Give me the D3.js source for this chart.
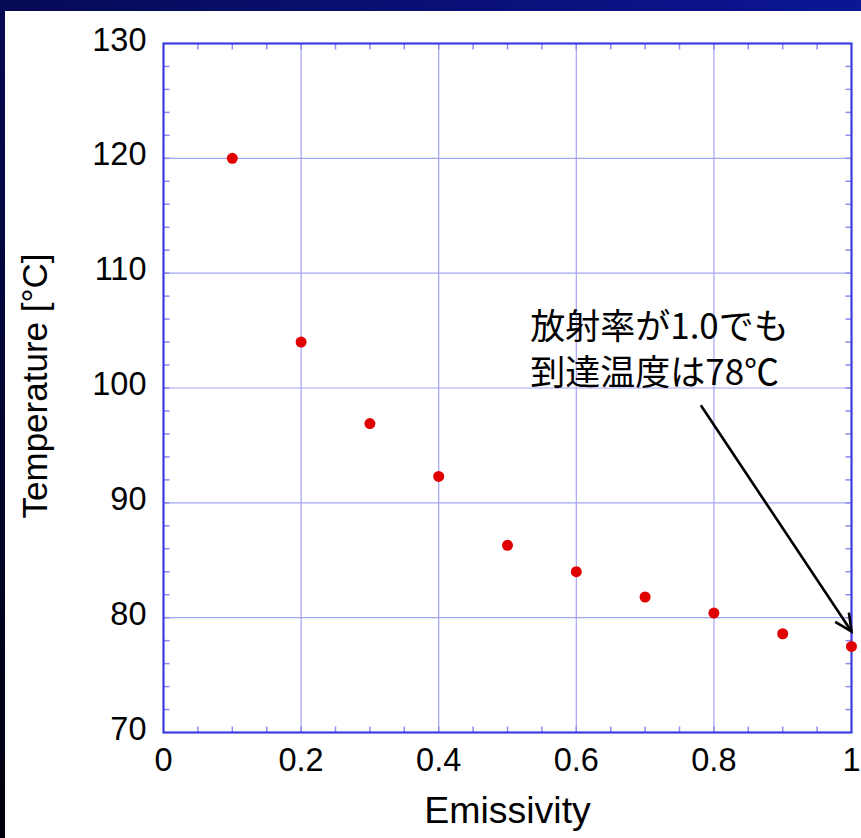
<!DOCTYPE html>
<html><head><meta charset="utf-8">
<script src="https://cdn.jsdelivr.net/npm/d3@7"></script>
<style>html,body{margin:0;padding:0;background:#000;}svg{display:block;}</style>
</head><body>
<script>
const emissivity = [0.1,0.2,0.3,0.4,0.5,0.6,0.7,0.8,0.9,1.0];
const temperature = [120,104,96.9,92.3,86.3,84.0,81.8,80.4,78.6,77.5];
const xTicks = [0,0.2,0.4,0.6,0.8,1];
const xTickLabels = ["0","0.2","0.4","0.6","0.8","1"];
const yTicks = [70,80,90,100,110,120,130];
const annotationLines = ["放射率が1.0でも","到達温度は78℃"];
const arrowFrom = [0.781,98.5];
const arrowTo = [1.0,78.8];

const W=861,H=838;
const svg=d3.select("body").append("svg").attr("width",W).attr("height",H);
const defs=svg.append("defs");
const g0=defs.append("linearGradient").attr("id","bg").attr("x1","0").attr("y1","1").attr("x2","1").attr("y2","0");
g0.append("stop").attr("offset","0").attr("stop-color","#00000c");
g0.append("stop").attr("offset","0.5").attr("stop-color","#060a55");
g0.append("stop").attr("offset","1").attr("stop-color","#0c1696");
svg.append("rect").attr("width",W).attr("height",H).attr("fill","url(#bg)");
svg.append("rect").attr("x",5).attr("y",11).attr("width",W-5).attr("height",H-11).attr("fill","#fff");

const L=163.5,R=851.5,T=43.5,B=732.5;
const x=d3.scaleLinear().domain([0,1]).range([L,R]);
const y=d3.scaleLinear().domain([70,130]).range([B,T]);

const gridC="#a4a4f4", tickC="#8a8af0", frameC="#3c3ce0";
// grid
svg.append("g").selectAll("line").data(xTicks.slice(1,-1)).join("line")
  .attr("x1",d=>x(d)).attr("x2",d=>x(d)).attr("y1",T).attr("y2",B)
  .attr("stroke",gridC).attr("stroke-width",1.2);
svg.append("g").selectAll("line").data(yTicks.slice(1,-1)).join("line")
  .attr("y1",d=>y(d)).attr("y2",d=>y(d)).attr("x1",L).attr("x2",R)
  .attr("stroke",gridC).attr("stroke-width",1.2);
// minor ticks
const xMinor=d3.range(1,20).map(i=>i*0.05);
const tl=6;
const tg=svg.append("g").attr("stroke",tickC).attr("stroke-width",1.5);
xMinor.forEach(v=>{
  tg.append("line").attr("x1",x(v)).attr("x2",x(v)).attr("y1",B).attr("y2",B-tl);
  tg.append("line").attr("x1",x(v)).attr("x2",x(v)).attr("y1",T).attr("y2",T+tl);
});
d3.range(72,130,2).forEach(v=>{
  tg.append("line").attr("y1",y(v)).attr("y2",y(v)).attr("x1",L).attr("x2",L+tl);
  tg.append("line").attr("y1",y(v)).attr("y2",y(v)).attr("x1",R).attr("x2",R-tl);
});
// frame
svg.append("rect").attr("x",L).attr("y",T).attr("width",R-L).attr("height",B-T)
  .attr("fill","none").attr("stroke",frameC).attr("stroke-width",2.2);

// tick labels
const font="Liberation Sans, Arial, sans-serif";
svg.append("g").selectAll("text").data(yTicks).join("text")
  .attr("x",L-17).attr("y",d=>y(d)+7).attr("text-anchor","end")
  .attr("font-family",font).attr("font-size",32.5).attr("fill","#000").text(d=>d);
svg.append("g").selectAll("text").data(xTicks).join("text")
  .attr("x",d=>x(d)).attr("y",B+38).attr("text-anchor","middle")
  .attr("font-family",font).attr("font-size",32.5).attr("fill","#000").text((d,i)=>xTickLabels[i]);

// axis titles
svg.append("text").attr("x",(L+R)/2).attr("y",823).attr("text-anchor","middle")
  .attr("font-family",font).attr("font-size",37.5).attr("fill","#000").text("Emissivity");
svg.append("text").attr("transform",`translate(47,${(T+B)/2 - 2}) rotate(-90)`).attr("text-anchor","middle")
  .attr("font-family",font).attr("font-size",35).attr("fill","#000").text("Temperature [°C]");

// points
svg.append("g").selectAll("circle").data(emissivity).join("circle")
  .attr("cx",d=>x(d)).attr("cy",(d,i)=>y(temperature[i])).attr("r",5.5).attr("fill","#e00000");

// annotation
const at=svg.append("text").attr("font-family","Noto Sans CJK JP, sans-serif").attr("font-size",35).attr("fill","#000");
annotationLines.forEach((s,i)=>at.append("tspan").attr("x",x(0.533)).attr("y",339+i*46).text(s));

// arrow
const x1=x(arrowFrom[0]),y1=y(arrowFrom[1]),x2=x(arrowTo[0]),y2=y(arrowTo[1]);
const ang=Math.atan2(y2-y1,x2-x1), hl=19, ha=0.45;
svg.append("line").attr("x1",x1).attr("y1",y1).attr("x2",x2).attr("y2",y2)
  .attr("stroke","#000").attr("stroke-width",2.6);
svg.append("path").attr("d",`M${x2-hl*Math.cos(ang-ha)},${y2-hl*Math.sin(ang-ha)}L${x2},${y2}L${x2-hl*Math.cos(ang+ha)},${y2-hl*Math.sin(ang+ha)}`)
  .attr("fill","none").attr("stroke","#000").attr("stroke-width",2.6);
</script>
</body></html>
